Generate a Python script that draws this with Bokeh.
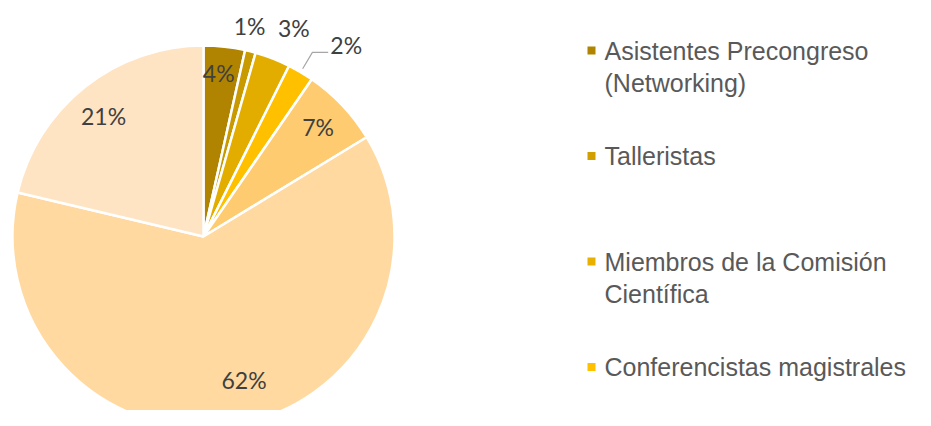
import math
from bokeh.plotting import figure
from bokeh.models import Range1d, ColumnDataSource
from bokeh.core.properties import value
from bokeh.embed import file_html
from bokeh.resources import INLINE

# ---- data ----
categories = ["Asistentes Precongreso (Networking)", "Talleristas",
              "Miembros de la Comisión Científica", "Conferencistas magistrales",
              "Otros 1", "Otros 2", "Otros 3"]
shares = [3.5, 0.9, 3.0, 2.2, 6.7, 62.4, 21.3]
pct_labels = ["4%", "1%", "3%", "2%", "7%", "62%", "21%"]
legend_lines = [["Asistentes Precongreso", "(Networking)"],
                ["Talleristas"],
                ["Miembros de la Comisión", "Científica"],
                ["Conferencistas magistrales"]]

# ---- style ----
colors = ["#B08400", "#C99A00", "#E3AD00", "#FFC000", "#FFCB70", "#FFD9A0", "#FFE4C4"]
legend_colors = ["#B08400", "#D1A000", "#E8B000", "#FFC000"]
label_r = [0.86, 1.13, 1.19, 1.25, 0.83, 0.78, 0.82]
label_shift_deg = [-1.0, -1.9, 2.2, 6.1, -0.3, -6.8, -1.3]

W, H = 915, 410
cx, cy, R = 203, 174, 191

p = figure(width=W, height=H, x_range=Range1d(0, W), y_range=Range1d(0, H),
           output_backend="svg", toolbar_location=None, min_border=0)
p.axis.visible = False
p.grid.visible = False
p.outline_line_color = None
p.background_fill_color = "white"

total = sum(shares)
starts, ends, mids = [], [], []
cum = 0.0
for s in shares:
    a0 = cum / total
    cum += s
    a1 = cum / total
    # clockwise from top
    starts.append(math.pi / 2 - a1 * 2 * math.pi)
    ends.append(math.pi / 2 - a0 * 2 * math.pi)
    mids.append((a0 + a1) / 2 * 360.0)

src = ColumnDataSource(dict(start=starts, end=ends, color=colors))
p.wedge(x=cx, y=cy, radius=R, start_angle="start", end_angle="end",
        direction="anticlock", fill_color="color", line_color="white",
        line_width=2.5, source=src)

lx, ly = [], []
for m, rf, sh in zip(mids, label_r, label_shift_deg):
    a = math.radians(m + sh)
    lx.append(cx + rf * R * math.sin(a))
    ly.append(cy + rf * R * math.cos(a))
p.text(x=lx, y=ly, text=pct_labels, text_font=value("Lato"),
       text_font_size="23px", text_color="#404040",
       text_align="center", text_baseline="middle")

# leader line for the 2% label
i = 3
am = math.radians(mids[i])
x0, y0 = cx + 1.02 * R * math.sin(am), cy + 1.02 * R * math.cos(am)
x1, y1 = cx + 1.12 * R * math.sin(am), cy + 1.12 * R * math.cos(am)
x2 = lx[i] - 18
p.line(x=[x0, x1, x2], y=[y0, y1, y1], line_color="#A6A6A6", line_width=1.2)

# legend
leg_x, leg_top, leg_step, line_gap = 591, 360, 105.5, 32
for k, (lines, c) in enumerate(zip(legend_lines, legend_colors)):
    yk = leg_top - k * leg_step
    p.rect(x=leg_x, y=yk, width=8, height=8, fill_color=c, line_color=None)
    p.text(x=[leg_x + 13] * len(lines), y=[yk - j * line_gap for j in range(len(lines))],
           text=lines, text_font=value("Liberation Sans"), text_font_size="25px",
           text_color="#595959", text_align="left", text_baseline="middle")

open("out.html", "w").write(file_html(p, INLINE))
